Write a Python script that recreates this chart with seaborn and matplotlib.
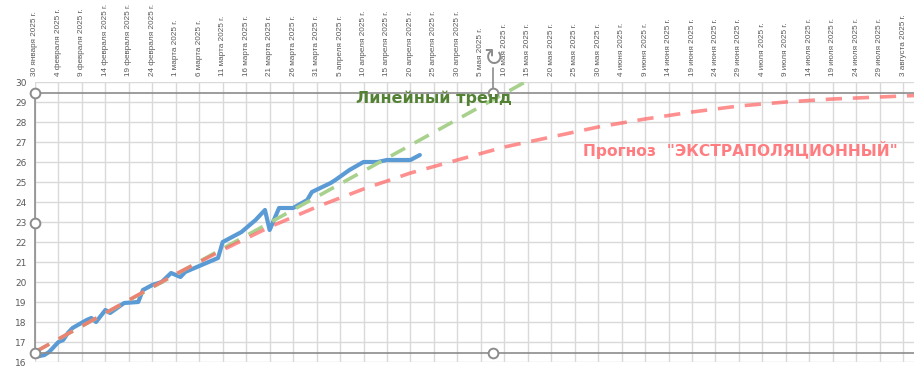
import pandas as pd
import matplotlib
matplotlib.use("Agg")
import matplotlib.pyplot as plt
import seaborn as sns

# Фактические значения
fact_dates = ["2025-01-30", "2025-02-01", "2025-02-02", "2025-02-04", "2025-02-05",
              "2025-02-06", "2025-02-07", "2025-02-10", "2025-02-11", "2025-02-12",
              "2025-02-14", "2025-02-15", "2025-02-18", "2025-02-21", "2025-02-22",
              "2025-02-24", "2025-02-26", "2025-02-28", "2025-03-02", "2025-03-03",
              "2025-03-05", "2025-03-10", "2025-03-11", "2025-03-13", "2025-03-15",
              "2025-03-18", "2025-03-20", "2025-03-21", "2025-03-23", "2025-03-26",
              "2025-03-29", "2025-03-30", "2025-04-03", "2025-04-04", "2025-04-07",
              "2025-04-10", "2025-04-13", "2025-04-15", "2025-04-20", "2025-04-22"]
fact_values = [16.25, 16.35, 16.5, 17.0, 17.1, 17.45, 17.7, 18.1, 18.2, 18.0,
               18.6, 18.45, 18.95, 19.0, 19.6, 19.85, 20.0, 20.45, 20.25, 20.5,
               20.7, 21.2, 22.0, 22.25, 22.5, 23.1, 23.6, 22.6, 23.7, 23.7,
               24.1, 24.5, 24.95, 25.1, 25.6, 26.0, 26.0, 26.1, 26.1, 26.35]

# Линейный тренд
trend_dates = ["2025-01-30", "2025-05-16"]
trend_values = [16.5, 30.2]

# Прогноз "экстраполяционный"
forecast_dates = ["2025-01-30", "2025-02-09", "2025-02-19", "2025-03-01", "2025-03-11",
                  "2025-03-21", "2025-03-31", "2025-04-10", "2025-04-20", "2025-04-30",
                  "2025-05-10", "2025-05-20", "2025-05-30", "2025-06-09", "2025-06-19",
                  "2025-06-29", "2025-07-09", "2025-07-19", "2025-07-29", "2025-08-08"]
forecast_values = [16.5, 17.8, 19.1, 20.4, 21.6, 22.75, 23.75, 24.65, 25.45, 26.1,
                   26.75, 27.25, 27.75, 28.15, 28.5, 28.8, 29.0, 29.15, 29.25, 29.35]

month_names = ["января", "февраля", "марта", "апреля", "мая", "июня", "июля", "августа"]
tick_dates = pd.date_range("2025-01-30", "2025-08-03", freq="5D")
tick_labels = [f"{d.day} {month_names[d.month - 1]} {d.year} г." for d in tick_dates]

fact = pd.DataFrame({"date": pd.to_datetime(fact_dates), "value": fact_values})
trend = pd.DataFrame({"date": pd.to_datetime(trend_dates), "value": trend_values})
forecast = pd.DataFrame({"date": pd.to_datetime(forecast_dates), "value": forecast_values})

sns.set_style("whitegrid")
plt.rcParams["font.family"] = ["DejaVu Sans"]

fig = plt.figure(figsize=(9.14, 3.70), dpi=100)
ax = fig.add_axes([35 / 914, 1 - 362 / 370, 879 / 914, 280 / 370])

sns.lineplot(data=trend, x="date", y="value", ax=ax, color="#A9D18E",
             lw=2.6, zorder=3).lines[-1].set_dashes([4.5, 3])
sns.lineplot(data=forecast, x="date", y="value", ax=ax, color="#FF6B6B",
             alpha=0.75, lw=2.6, zorder=4).lines[-1].set_dashes([4.5, 3])
sns.lineplot(data=fact, x="date", y="value", ax=ax, color="#5B9BD5",
             lw=3.0, zorder=2)

start = pd.Timestamp("2025-01-30")
ax.set_xlim(start, start + pd.Timedelta(days=187.3))
ax.set_ylim(16, 30)
ax.set_xticks(tick_dates)
ax.set_xticklabels(tick_labels, rotation=90, fontsize=5.9, color="#595959",
                   family="Liberation Sans")
ax.xaxis.tick_top()
ax.set_yticks(range(16, 31))
ax.tick_params(axis="y", labelsize=6.5, colors="#595959", length=0, pad=6)
ax.tick_params(axis="x", length=0, pad=4)
ax.set_xlabel("")
ax.set_ylabel("")
ax.grid(True, color="#D9D9D9", lw=1)
for s in ax.spines.values():
    s.set_visible(False)

# рамка выделенного объекта
handle_x = pd.Timestamp("2025-05-07 14:00")
ax.axhline(29.45, color="#8C8C8C", lw=1.2, zorder=5)
ax.axhline(16.45, color="#8C8C8C", lw=1.2, zorder=5)
ax.plot([start, start], [16.45, 29.45], color="#8C8C8C", lw=1.2, zorder=5, clip_on=False)
ax.plot([handle_x, handle_x], [29.45, 30.7], color="#8C8C8C", lw=1.2, zorder=5, clip_on=False)
for hx, hy in [(start, 29.45), (start, 22.95), (start, 16.45), (handle_x, 29.45), (handle_x, 16.45)]:
    ax.plot(hx, hy, "o", ms=7, mfc="white", mec="#8C8C8C", mew=1.4, zorder=6, clip_on=False)
ax.text(handle_x, 31.2, "↻", fontsize=17, color="#8C8C8C", ha="center", va="center",
        clip_on=False, zorder=6)

ax.text(pd.Timestamp("2025-04-25"), 29.2, "Линейный тренд", color="#548235",
        fontsize=11.5, fontweight="bold", ha="center", va="center", zorder=7)
ax.text(pd.Timestamp("2025-06-29 06:00"), 26.6, 'Прогноз  "ЭКСТРАПОЛЯЦИОННЫЙ"',
        color="#FF7C80", fontsize=11.2, fontweight="bold", ha="center", va="center", zorder=7)

fig.savefig("out.png", dpi=100)
